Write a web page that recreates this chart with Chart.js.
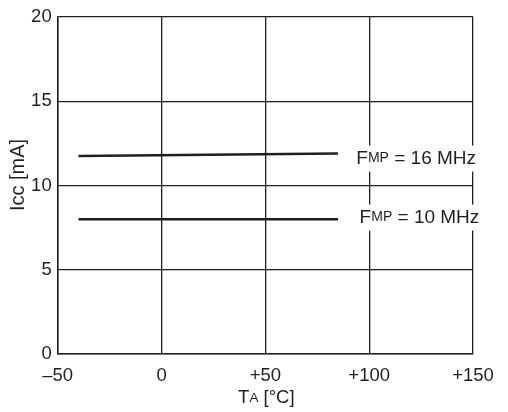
<!DOCTYPE html>
<html>
<head>
<meta charset="utf-8">
<script src="https://cdn.jsdelivr.net/npm/chart.js@4.4.1/dist/chart.umd.min.js"></script>
<style>
  html, body { margin: 0; padding: 0; background: #fff; }
  #wrap { width: 508px; height: 412px; }
</style>
</head>
<body>
<div id="wrap"><canvas id="c" width="508" height="412"></canvas></div>
<script>
  // temperatures (°C) and supply current (mA)
  var temps = [-40, 85];
  var icc16 = [11.75, 11.9];
  var icc10 = [8.0, 8.0];
  var xTicks = [-50, 0, 50, 100, 150];
  var yTicks = [0, 5, 10, 15, 20];
  var seriesNames = ["16 MHz", "10 MHz"];

  var FONT = "'Liberation Sans', Arial, sans-serif";
  var INK = "#231f20";

  function pts(ys) {
    return temps.map(function (t, i) { return { x: t, y: ys[i] }; });
  }

  function fmtX(v) {
    if (v < 0) return "\u2013" + Math.abs(v);
    if (v > 0) return "+" + v;
    return "0";
  }

  // draws text made of [text, size] runs, left aligned, vertically centred
  function runs(ctx, parts, x, y) {
    var cx = x;
    parts.forEach(function (p) {
      ctx.font = p[1] + "px " + FONT;
      ctx.fillText(p[0], cx, y);
      cx += ctx.measureText(p[0]).width;
    });
    return cx - x;
  }

  function runsWidth(ctx, parts) {
    var w = 0;
    parts.forEach(function (p) {
      ctx.font = p[1] + "px " + FONT;
      w += ctx.measureText(p[0]).width;
    });
    return w;
  }

  var labelPlugin = {
    id: "labels",
    afterDraw: function (chart) {
      var ctx = chart.ctx;
      var xs = chart.scales.x, ys = chart.scales.y;
      ctx.save();
      ctx.textBaseline = "middle";
      ctx.fillStyle = INK;

      var anchors = [
        { x: 93.8, y: 11.6 },
        { x: 95.4, y: 8.1 }
      ];
      seriesNames.forEach(function (name, i) {
        var parts = [["F", 19], ["MP", 14], [" = " + name, 19]];
        var px = xs.getPixelForValue(anchors[i].x);
        var py = ys.getPixelForValue(anchors[i].y);
        var w = runsWidth(ctx, parts);
        ctx.fillStyle = "#fff";
        ctx.fillRect(px - 2, py - 13, w + 4, 26);
        ctx.fillStyle = INK;
        runs(ctx, parts, px, py);
      });

      // x title
      var xt = [["T", 18.5], ["A", 13.5], [" [\u00b0C]", 18.5]];
      var wx = runsWidth(ctx, xt);
      runs(ctx, xt, (xs.left + xs.right) / 2 - wx / 2 + 1, 398);

      // y title
      ctx.translate(18, 175);
      ctx.rotate(-Math.PI / 2);
      var yt = [["Icc [mA]", 20]];
      var wy = runsWidth(ctx, yt);
      runs(ctx, yt, -wy / 2, 0);
      ctx.restore();
    }
  };

  new Chart(document.getElementById("c"), {
    type: "line",
    data: {
      datasets: [
        { label: seriesNames[0], data: pts(icc16) },
        { label: seriesNames[1], data: pts(icc10) }
      ].map(function (d) {
        d.borderColor = INK;
        d.borderWidth = 2.6;
        d.pointRadius = 0;
        d.tension = 0;
        d.fill = false;
        return d;
      })
    },
    options: {
      responsive: false,
      animation: false,
      events: [],
      layout: { padding: { top: 12, right: 35, left: 0, bottom: 0 } },
      plugins: { legend: { display: false }, tooltip: { enabled: false } },
      scales: {
        x: {
          type: "linear",
          min: -50, max: 150,
          afterBuildTicks: function (s) { s.ticks = xTicks.map(function (v) { return { value: v }; }); },
          afterFit: function (s) { s.height = 58; },
          grid: { color: INK, lineWidth: 1.3, drawTicks: false },
          border: { color: INK, width: 1.5 },
          ticks: {
            color: INK, padding: 11,
            font: { family: FONT, size: 18.5 },
            maxRotation: 0,
            callback: function (v) { return fmtX(v); }
          }
        },
        y: {
          min: 0, max: 20,
          afterBuildTicks: function (s) { s.ticks = yTicks.map(function (v) { return { value: v }; }); },
          afterFit: function (s) { s.width = 57.7; },
          grid: { color: INK, lineWidth: 1.3, drawTicks: false },
          border: { color: INK, width: 1.5 },
          ticks: {
            color: INK, padding: 6,
            font: { family: FONT, size: 18.5 }
          }
        }
      }
    },
    plugins: [labelPlugin]
  });
</script>
</body>
</html>
